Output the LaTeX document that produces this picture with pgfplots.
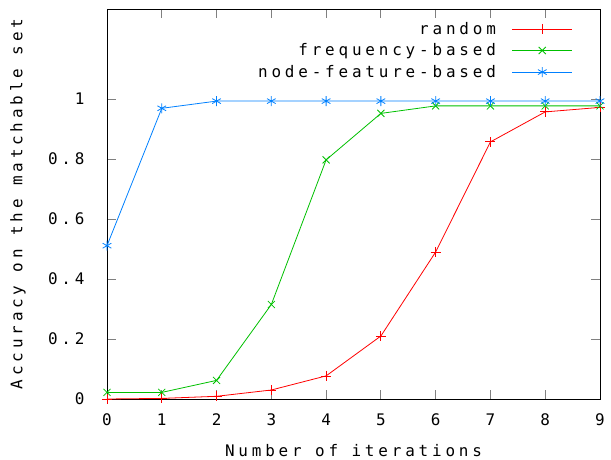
\documentclass[border=0pt]{standalone}
\usepackage{fontspec}
\usepackage{pgfplots}
\pgfplotsset{compat=1.18}
\newfontfamily\gp[LetterSpace=24]{DejaVu Sans Mono}
\definecolor{gpred}{RGB}{255,0,0}
\definecolor{gpgreen}{RGB}{0,192,0}
\definecolor{gpblue}{RGB}{0,128,255}

\begin{document}
\begin{tikzpicture}
\useasboundingbox (-107bp,-61bp) rectangle (504bp,399bp);
\begin{axis}[
  at={(0,0)}, anchor=south west,
  scale only axis, width=493bp, height=390bp,
  xmin=0, xmax=9, ymin=0, ymax=1.3,
  xtick={0,...,9},
  ytick={0,0.2,0.4,0.6,0.8,1},
  yticklabels={0,0.2,0.4,0.6,0.8,1},
  /pgf/number format/assume math mode=true,
  tick align=inside, major tick length=9bp,
  major tick style={gray, line width=0.8bp},
  axis line style={black, line width=0.8bp},
  font=\fontsize{16}{18}\selectfont\gp,
  x tick label style={yshift=-11bp},
  y tick label style={xshift=-19bp},
  xlabel={Number of iterations},
  ylabel={Accuracy on the matchable set},
  every axis x label/.style={at={(axis description cs:0.5,-0.131)}, anchor=center},
  every axis y label/.style={at={(axis description cs:-0.1805,0.5)}, rotate=90, anchor=center},
  legend plot pos=right,
  legend cell align=right,
  legend style={draw=none, fill=none, inner sep=0bp,
    at={(axis description cs:0.945,0.972)}, anchor=north east,
    row sep=4bp, font=\fontsize{16}{18}\selectfont\gp,
    /tikz/every odd column/.append style={column sep=14bp}},
  legend image code/.code={\draw[#1, mark repeat=2, mark phase=2] plot coordinates {(0bp,0bp) (30bp,0bp) (60bp,0bp)};},
  every axis plot/.append style={line width=0.8bp, mark size=5bp, mark options={line width=0.8bp}},
]
\addplot[gpred, mark=+] coordinates {
  (0,0) (1,0.002) (2,0.009) (3,0.030) (4,0.077) (5,0.210) (6,0.490) (7,0.857) (8,0.957) (9,0.972)
};
\addlegendentry{random}
\addplot[gpgreen, mark=x] coordinates {
  (0,0.022) (1,0.022) (2,0.062) (3,0.315) (4,0.797) (5,0.952) (6,0.977) (7,0.977) (8,0.977) (9,0.977)
};
\addlegendentry{frequency-based}
\addplot[gpblue, mark=asterisk] coordinates {
  (0,0.511) (1,0.969) (2,0.993) (3,0.993) (4,0.993) (5,0.993) (6,0.993) (7,0.993) (8,0.993) (9,0.993)
};
\addlegendentry{node-feature-based}
\end{axis}
\end{tikzpicture}
\end{document}
